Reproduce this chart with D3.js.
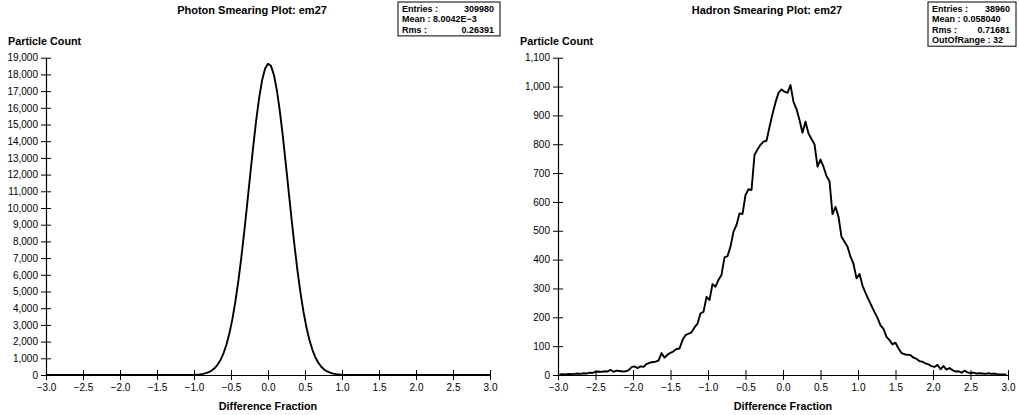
<!DOCTYPE html>
<html>
<head>
<meta charset="utf-8">
<script src="https://d3js.org/d3.v7.min.js"></script>
<style>
  body { margin: 0; background: #fff; }
  svg { display: block; font-family: "Liberation Sans", Arial, Helvetica, sans-serif; }
</style>
</head>
<body>
<svg id="chart" width="1019" height="415"></svg>
<script>
// ---- Data ----
const xDomain = [-3, 3];
const xTicks = [-3.0, -2.5, -2.0, -1.5, -1.0, -0.5, 0.0, 0.5, 1.0, 1.5, 2.0, 2.5, 3.0];

// Photon histogram: points at x = -3.0 + 0.04*i
const photonStart = -3.0;
const photonStep = 0.04;
const photonCounts = [
  0,0,0,0,0,0,0,0,0,0, 0,0,0,0,0,0,0,0,0,0, 0,0,0,0,0,0,0,0,0,0, 0,0,0,0,0,0,0,0,0,0, 0,0,0,0,0,
  1,1,2,4,8,14,24,40,66,108,172,271,416,625,917,1315,1843,2524,3379,4420,5650,7059,8620,10286,11997,13674,15232,16582,17642,18344,
  18641,
  18513,17969,17045,15802,14316,12676,10969,9277,7667,6194,4890,3772,2845,2096,1510,1063,731,491,323,210,135,85,52,31,18,10,6,3,2,1,
  0,0,0,0,0,0,0,0,0,0, 0,0,0,0,0,0,0,0,0,0, 0,0,0,0,0,0,0,0,0,0, 0,0,0,0,0,0,0,0,0,0, 0,0,0,0,0
];
const photonYTicks = [0,1000,2000,3000,4000,5000,6000,7000,8000,9000,10000,11000,12000,13000,14000,15000,16000,17000,18000,19000];
const photonStats = [["Entries :", "309980"], ["Mean : 8.0042E\u22123", ""], ["Rms :", "0.26391"]];

// Hadron histogram: bin centres at x = -2.98 + 0.04*i
const hadronStart = -2.98;
const hadronStep = 0.04;
const hadronCounts = [
  2,3,2,4,3,4,5,4,6,5, 8,7,11,12,11,13,12,18,11,15,
  14,12,13,16,27,30,24,30,28,38, 42,45,46,50,76,60,70,77,82,90,
  92,121,138,143,148,165,178,214,219,271, 260,315,306,330,347,408,412,445,497,520,
  560,558,624,644,641,763,782,798,809,812, 860,905,945,978,990,982,978,1005,947,922,
  884,840,878,837,818,800,722,747,722,690, 672,558,583,549,479,462,445,410,385,335,
  350,310,285,262,240,218,198,172,160,132, 121,106,112,92,76,72,70,69,60,56,
  48,46,40,37,31,28,35,20,31,19, 24,17,12,13,8,15,9,7,8,5,
  6,5,4,6,4,5,3,2,2,1
];
const hadronYTicks = [0,100,200,300,400,500,600,700,800,900,1000,1100];
const hadronStats = [["Entries :", "38960"], ["Mean : 0.058040", ""], ["Rms :", "0.71681"], ["OutOfRange : 32", ""]];

// ---- Drawing ----
const svg = d3.select("#chart");
const fmtY = d3.format(",");
const fmtX = d => d3.format(".1f")(d).replace("-", "\u2212");

function panel(cfg) {
  const g = svg.append("g");
  const x = d3.scaleLinear().domain(xDomain).range([cfg.x0, cfg.x1]);
  const y = d3.scaleLinear().domain([0, cfg.yMax]).range([cfg.yBottom, cfg.yTop]);

  // title
  g.append("text").attr("x", cfg.titleX).attr("y", 14).attr("text-anchor", "middle")
    .attr("font-size", 11).attr("font-weight", "bold").text(cfg.title);
  // y label
  g.append("text").attr("x", cfg.x0 - 38).attr("y", 45).attr("font-size", 10.8).attr("font-weight", "bold")
    .text("Particle Count");
  // x label
  g.append("text").attr("x", (cfg.x0 + cfg.x1) / 2).attr("y", 410).attr("text-anchor", "middle")
    .attr("font-size", 10.8).attr("font-weight", "bold").text("Difference Fraction");

  // y axis
  const ya = d3.axisLeft(y).tickValues(cfg.yTicks).tickFormat(fmtY).tickSizeInner(5).tickSizeOuter(0).tickPadding(3);
  const yg = g.append("g").attr("transform", `translate(${cfg.x0},0)`).call(ya);
  yg.selectAll(".tick line").attr("x1", -5).attr("x2", 5).attr("stroke-width", 1);
  yg.select(".domain").attr("stroke-width", 1.2);
  yg.selectAll("text").attr("font-size", 10).attr("font-family", "Liberation Sans, Arial, sans-serif");

  // x axis
  const xa = d3.axisBottom(x).tickValues(xTicks).tickFormat(fmtX).tickSizeInner(5).tickSizeOuter(0).tickPadding(4);
  const xg = g.append("g").attr("transform", `translate(0,${cfg.yBottom})`).call(xa);
  xg.selectAll(".tick line").attr("y1", -5).attr("y2", 5).attr("stroke-width", 1);
  xg.select(".domain").attr("stroke-width", 1.2);
  xg.selectAll("text").attr("font-size", 10).attr("font-family", "Liberation Sans, Arial, sans-serif");

  // curve
  const pts = cfg.counts.map((c, i) => [cfg.start + cfg.step * i, c]);
  const line = d3.line().x(d => x(d[0])).y(d => y(d[1]));
  g.append("path").datum(pts).attr("d", line).attr("fill", "none")
    .attr("stroke", "#000").attr("stroke-width", 1.9).attr("stroke-linejoin", "round");

  // stats box
  const rowH = 10.3;
  const bx = cfg.boxX, by = 2, bw = cfg.boxW, bh = cfg.stats.length * rowH + 3;
  g.append("rect").attr("x", bx).attr("y", by).attr("width", bw).attr("height", bh)
    .attr("fill", "#fff").attr("stroke", "#000").attr("stroke-width", 1);
  cfg.stats.forEach((s, i) => {
    g.append("text").attr("x", bx + 4).attr("y", by + 10 + i * rowH).attr("font-size", 9)
      .attr("font-weight", "bold").text(s[0]);
    if (s[1]) g.append("text").attr("x", bx + bw - 6).attr("y", by + 10 + i * rowH).attr("font-size", 9)
      .attr("font-weight", "bold").attr("text-anchor", "end").text(s[1]);
  });
}

panel({ title: "Photon Smearing Plot: em27", titleX: 252, x0: 46, x1: 490, yTop: 57.7, yBottom: 375,
  yMax: 19000, yTicks: photonYTicks, counts: photonCounts, start: photonStart, step: photonStep,
  stats: photonStats, boxX: 398, boxW: 102 });
panel({ title: "Hadron Smearing Plot: em27", titleX: 767, x0: 558, x1: 1008, yTop: 57.7, yBottom: 375,
  yMax: 1100, yTicks: hadronYTicks, counts: hadronCounts, start: hadronStart, step: hadronStep,
  stats: hadronStats, boxX: 928, boxW: 88 });
</script>
</body>
</html>
